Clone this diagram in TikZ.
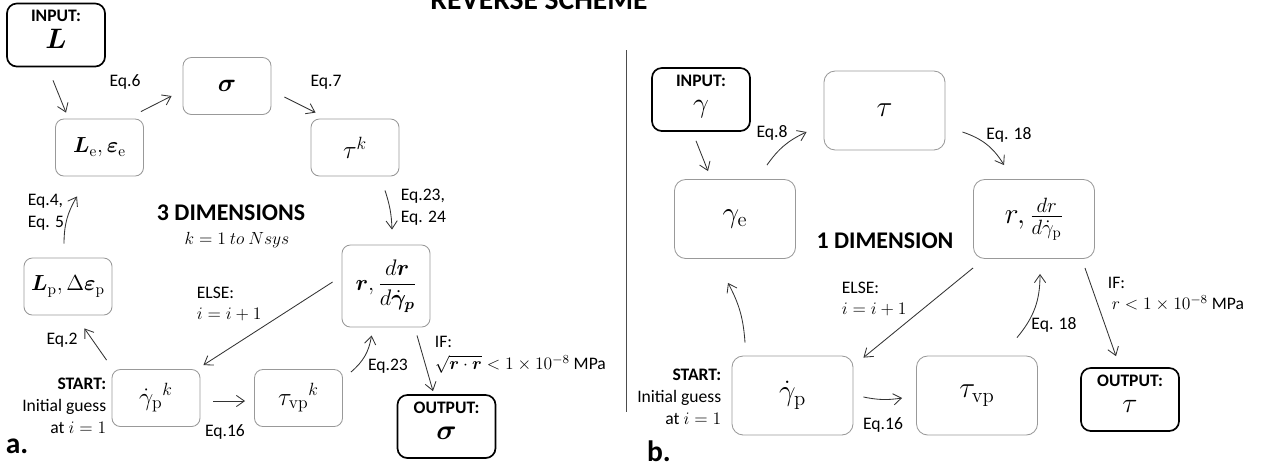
\RequirePackage{fix-cm}
\documentclass[tikz,border=0pt]{standalone}
\usepackage{amsmath}
\usepackage{bm}
\usepackage[no-math]{fontspec}
\setmainfont{Carlito}
\usetikzlibrary{arrows.meta, calc}

\begin{document}
\begin{tikzpicture}[x=0.025cm, y=-0.025cm, line width=0.6pt,
    box/.style={draw=black!40, rounded corners=6pt, minimum width=2.2cm,
        minimum height=1.425cm, font=\fontsize{18}{21}\selectfont},
    bigbox/.style={box, rounded corners=8pt, minimum width=3.025cm,
        minimum height=1.975cm, font=\fontsize{21}{24}\selectfont},
    iobox/.style={draw=black, line width=1.2pt, rounded corners=7pt,
        minimum width=2.45cm, minimum height=1.575cm},
    iotext/.style={anchor=north, align=center, inner sep=1pt, yshift=-4pt,
        font=\fontsize{12.5}{19}\selectfont},
    lbl/.style={inner sep=1pt, font=\fontsize{12.5}{15.5}\selectfont},
    head/.style={font=\fontsize{17}{20}\selectfont\bfseries},
    arr/.style={black!80, -{Straight Barb[length=2mm,width=2.8mm]}}]
\useasboundingbox (0,0) rectangle (1268,470);

\node[font=\fontsize{21}{24}\selectfont\bfseries, anchor=base] (title) at (539,9) {REVERSE SCHEME};
\draw[black!70] (626,50) -- (626,412);

% a. three dimensions
\node[iobox, label={[iotext, name=inLtxt]north:{\textbf{INPUT:}\\{\fontsize{20}{20}\selectfont$\bm{L}$}}}] (inL) at (56,35) {};
\node[box] (sig) at (227,86) {$\bm{\sigma}$};
\node[box, font=\fontsize{15.5}{18}\selectfont] (Le) at (99.5,147.5) {$\bm{L}_{\mathrm{e}},\bm{\varepsilon}_{\mathrm{e}}$};
\node[box] (tauk) at (355,147.5) {$\tau^{k}$};
\node[box, font=\fontsize{15.5}{18}\selectfont] (Lp) at (68,286.5) {$\bm{L}_{\mathrm{p}},\Delta\bm{\varepsilon}_{\mathrm{p}}$};
\node[box, minimum height=2.05cm, font=\fontsize{16}{18}\selectfont] (rL) at (386,286) {$\bm{r},\dfrac{d\bm{r}}{d\dot{\bm{\gamma}}_{\bm{p}}}$};
\node[box] (gpk) at (156,398) {$\dot{\gamma}_{\mathrm{p}}{}^{k}$};
\node[box] (tvpk) at (298.5,398) {$\tau_{\mathrm{vp}}{}^{k}$};
\node[iobox, label={[iotext, name=outStxt]north:{\textbf{OUTPUT:}\\{\fontsize{20}{20}\selectfont$\bm{\sigma}$}}}] (outS) at (446.5,426.5) {};

\node[head] (dim3) at (231,213) {3 DIMENSIONS};
\node[lbl] (nsys) at (237,240) {$k=1\ to\ Nsys$};
\node[lbl, anchor=east, align=right] (startL) at (108,406) {\textbf{START:}\\Initial guess\\at $i=1$};
\node[font=\fontsize{21}{24}\selectfont\bfseries] (pa) at (17,446) {a.};

\path[arr] ($(inL.south)+(-3,13)$) edge ($(Le.north)+(-33.5,-6)$);
\path[arr] ($(Le.north east)+(-3,-7)$) edge ($(sig.west)+(-11,10)$);
\path[arr] ($(sig.east)+(13,11)$) edge ($(tauk.north west)+(5,-6)$);
\path[arr] ($(tauk.south)+(30,14)$) edge[bend left=8] ($(rL.north)+(6,-15)$);
\path[arr] ($(Lp.north)+(-4,-14)$) edge[bend left=15] ($(Le.south)+(-22.5,20)$);
\path[arr] ($(gpk.north west)+(-5,-9)$) edge ($(Lp.south east)+(-28,13)$);
\path[arr] ($(gpk.east)+(13,3)$) edge ($(tvpk.west)+(-9,3)$);
\path[arr] ($(tvpk.north east)+(8,3)$) edge[bend right=20] ($(rL.south west)+(30,8)$);
\path[arr] ($(rL.west)+(-9,-4)$) edge ($(gpk.north east)+(3,-4)$);
\path[arr] ($(rL.south)+(31,8)$) edge ($(outS.north)+(-13.5,-3)$);

\node[lbl] (eq6) at (125,82) {Eq.6};
\node[lbl] (eq7) at (326,82) {Eq.7};
\node[lbl, anchor=west, align=left] (eq2324) at (399,207) {Eq.23,\\Eq. 24};
\node[lbl, anchor=west, align=left] (eq45) at (26,212) {Eq.4,\\Eq. 5};
\node[lbl] (eq2) at (62,340) {Eq.2};
\node[lbl] (eq16a) at (225,432) {Eq.16};
\node[lbl] (eq23) at (388,366) {Eq.23};
\node[lbl, anchor=west, align=left] (elseL) at (195,304) {ELSE:\\$i=i+1$};
\node[lbl, anchor=west, align=left] (ifL) at (433,355) {IF:\\$\sqrt{\bm{r}\cdot\bm{r}}<1\times10^{-8}$ MPa};

% b. one dimension
\node[iobox, label={[iotext, name=inGtxt]north:{\textbf{INPUT:}\\{\fontsize{20}{20}\selectfont$\gamma$}}}] (inG) at (701,99.5) {};
\node[bigbox] (tau) at (884.5,110.5) {$\tau$};
\node[bigbox] (ge) at (735,219) {$\gamma_{\mathrm{e}}$};
\node[bigbox] (rR) at (1034,219) {$r,\frac{dr}{d\dot{\gamma}_{\mathrm{p}}}$};
\node[bigbox] (gp) at (792.5,395.5) {$\dot{\gamma}_{\mathrm{p}}$};
\node[bigbox] (tvp) at (977,395.5) {$\tau_{\mathrm{vp}}$};
\node[iobox, label={[iotext, name=outTtxt]north:{\textbf{OUTPUT:}\\{\fontsize{20}{20}\selectfont$\tau$}}}] (outT) at (1130,399.5) {};

\node[head] (dim1) at (885,241) {1 DIMENSION};
\node[lbl, anchor=east, align=right] (startR) at (723,397) {\textbf{START:}\\Initial guess\\at $i=1$};
\node[font=\fontsize{21}{24}\selectfont\bfseries] (pb) at (659,451) {b.};

\path[arr] ($(inG.south)+(-5,9)$) edge ($(ge.north)+(-27,-8)$);
\path[arr] ($(ge.north east)+(-29,-14)$) edge[bend left=15] ($(tau.west)+(-17,21.5)$);
\path[arr] ($(tau.east)+(17,21.5)$) edge[bend left=20] ($(rR.north west)+(31,-14)$);
\path[arr] ($(gp.north)+(-47.5,-13)$) edge[bend right=12] ($(ge.south)+(-7,24)$);
\path[arr] ($(gp.east)+(10,1.5)$) edge[bend right=10] ($(tvp.west)+(-14,2.5)$);
\path[arr] ($(tvp.north)+(40,-18)$) edge[bend right=20] ($(rR.south)+(6,15)$);
\path[arr] ($(rR.south west)+(0,9)$) edge ($(gp.north east)+(10,2)$);
\path[arr] ($(rR.south east)+(-10,9)$) edge ($(outT.north)+(-14,-11)$);

\node[lbl] (eq8) at (772,133) {Eq.8};
\node[lbl] (eq18a) at (1009,135) {Eq. 18};
\node[lbl] (eq16b) at (883,425) {Eq.16};
\node[lbl] (eq18b) at (1054,325) {Eq. 18};
\node[lbl, anchor=west, align=left] (elseR) at (840,299) {ELSE:\\$i=i+1$};
\node[lbl, anchor=west, align=left] (ifR) at (1106,294) {IF:\\\ $r<1\times10^{-8}$ MPa};
\end{tikzpicture}
\end{document}
